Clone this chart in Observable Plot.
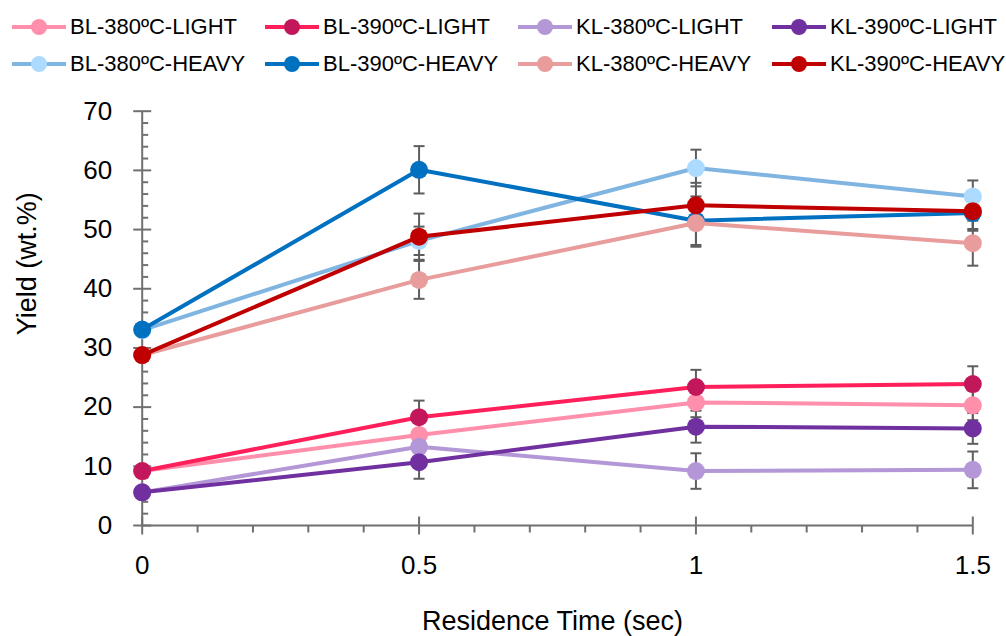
<!DOCTYPE html>
<html><head><meta charset="utf-8">
<script src="https://cdn.jsdelivr.net/npm/d3@7"></script>
<script src="https://cdn.jsdelivr.net/npm/@observablehq/plot@0.6"></script>
<style>
body{margin:0;background:#fff;font-family:"Liberation Sans",Arial,sans-serif;}
#wrap{position:relative;width:1006px;height:636px;overflow:hidden;background:#fff}
#legend{position:absolute;left:0;top:0;width:1006px;height:86px}
#chart{position:absolute;left:0;top:86px}
.item{position:absolute;height:30px;display:flex;align-items:center;font-size:22px;color:#000;white-space:nowrap}
.item svg{display:block;margin-right:4px}
</style></head><body>
<div id="wrap"><div id="legend"></div><div id="chart"></div></div>
<script>
// ---- data ----
const residenceTimes = [0, 0.5, 1, 1.5];
const seriesNames = ["BL-380ºC-LIGHT", "BL-390ºC-LIGHT", "KL-380ºC-LIGHT", "KL-390ºC-LIGHT",
                     "BL-380ºC-HEAVY", "BL-390ºC-HEAVY", "KL-380ºC-HEAVY", "KL-390ºC-HEAVY"];
const lineColors   = ["#FF8FAB", "#FF1F5B", "#B497D6", "#7030A0", "#7FB5E0", "#0070C0", "#E89C9C", "#C00000"];
const markerColors = ["#FF8FAB", "#C2185B", "#B497D6", "#7030A0", "#ADDBFF", "#0070C0", "#E89C9C", "#C00000"];

const bl380Light = [9.2, 15.3, 20.8, 20.3];
const bl390Light = [9.2, 18.3, 23.4, 23.9];
const kl380Light = [5.6, 13.3, 9.2, 9.4];
const kl390Light = [5.6, 10.7, 16.7, 16.4];
const bl380Heavy = [33.0, 48.1, 60.4, 55.6];
const bl390Heavy = [33.1, 60.1, 51.5, 52.8];
const kl380Heavy = [28.8, 41.5, 51.1, 47.7];
const kl390Heavy = [28.8, 48.8, 54.1, 53.1];

const bl380LightErr = [0, 2.5, 2.5, 2.5];
const bl390LightErr = [0, 2.8, 2.9, 3.0];
const kl380LightErr = [0, 2.0, 3.0, 3.1];
const kl390LightErr = [0, 2.8, 2.7, 2.6];
const bl380HeavyErr = [0, 2.4, 3.1, 2.7];
const bl390HeavyErr = [0, 4.0, 4.1, 3.0];
const kl380HeavyErr = [0, 3.2, 4.0, 3.8];
const kl390HeavyErr = [0, 3.9, 3.8, 3.0];

const xTicks = [0, 0.5, 1, 1.5];
const xMinorTicks = [0.1, 0.2, 0.3, 0.4, 0.6, 0.7, 0.8, 0.9, 1.1, 1.2, 1.3, 1.4];
const yTicks = [0, 10, 20, 30, 40, 50, 60, 70];
const yMinorTicks = [2,4,6,8,12,14,16,18,22,24,26,28,32,34,36,38,42,44,46,48,52,54,56,58,62,64,66,68];

const xLabel = "Residence Time (sec)";
const yLabel = "Yield (wt.%)";

// ---- build ----
const values = [bl380Light, bl390Light, kl380Light, kl390Light, bl380Heavy, bl390Heavy, kl380Heavy, kl390Heavy];
const errors = [bl380LightErr, bl390LightErr, kl380LightErr, kl390LightErr, bl380HeavyErr, bl390HeavyErr, kl380HeavyErr, kl390HeavyErr];

const series = seriesNames.map((name, i) => ({
  name, line: lineColors[i], marker: markerColors[i],
  rows: residenceTimes.map((t, j) => ({t, v: values[i][j], e: errors[i][j]}))
}));
const errRows = series.flatMap(s => s.rows.filter(r => r.e > 0).map(r => ({t: r.t, lo: r.v - r.e, hi: r.v + r.e})));

const axisColor = "#707070";
const errColor = "#5E5E5E";
const hSeg = (a, b) => ({draw(ctx) { ctx.moveTo(a, 0); ctx.lineTo(b, 0); }});
const vSeg = (a, b) => ({draw(ctx) { ctx.moveTo(0, a); ctx.lineTo(0, b); }});

const marks = [
  // axis lines
  Plot.ruleY([0], {stroke: axisColor, strokeWidth: 2}),
  Plot.ruleX([0], {stroke: axisColor, strokeWidth: 2}),
  // y ticks
  Plot.dot(yTicks, {x: 0, y: d => d, symbol: hSeg(-9, 9), fill: "none", stroke: axisColor, strokeWidth: 2}),
  Plot.dot(yMinorTicks, {x: 0, y: d => d, symbol: hSeg(0, 6), fill: "none", stroke: axisColor, strokeWidth: 2}),
  // x ticks
  Plot.dot(xTicks, {x: d => d, y: 0, symbol: vSeg(-9, 9), fill: "none", stroke: axisColor, strokeWidth: 2}),
  Plot.dot(xMinorTicks, {x: d => d, y: 0, symbol: vSeg(0, 7), fill: "none", stroke: axisColor, strokeWidth: 2}),
  Plot.axisX({ticks: xTicks, tickSize: 0, tickPadding: 30, tickFormat: d => String(d), fontSize: 26, label: null}),
  Plot.axisY({ticks: yTicks, tickSize: 0, tickPadding: 30, tickFormat: d => String(d), fontSize: 26, label: null}),
  Plot.text([xLabel], {frameAnchor: "bottom", dy: 85, dx: -5, lineAnchor: "top", fontSize: 27, fill: "#000"}),
  Plot.text([yLabel], {frameAnchor: "left", dx: -115, dy: 17, rotate: -90, lineAnchor: "middle", fontSize: 27, fill: "#000"}),
  // error bars
  Plot.ruleX(errRows, {x: "t", y1: "lo", y2: "hi", stroke: errColor, strokeWidth: 2}),
  Plot.dot(errRows, {x: "t", y: "lo", symbol: hSeg(-5.5, 5.5), fill: "none", stroke: errColor, strokeWidth: 2}),
  Plot.dot(errRows, {x: "t", y: "hi", symbol: hSeg(-5.5, 5.5), fill: "none", stroke: errColor, strokeWidth: 2})
];
for (const s of series) {
  marks.push(Plot.line(s.rows, {x: "t", y: "v", stroke: s.line, strokeWidth: 4, strokeLinejoin: "round"}));
  marks.push(Plot.dot(s.rows, {x: "t", y: "v", r: 9, fill: s.marker, stroke: "none"}));
}

const chart = Plot.plot({
  width: 1006, height: 550,
  marginLeft: 141.7, marginRight: 33.7, marginTop: 24.7, marginBottom: 111,
  x: {domain: [0, 1.5]},
  y: {domain: [0, 70]},
  style: {fontFamily: '"Liberation Sans", Arial, sans-serif', color: "#000", background: "transparent", overflow: "visible"},
  marks
});
document.getElementById("chart").appendChild(chart);

// ---- legend ----
const legendCols = [12, 265, 518, 772];
const legendRows = [27, 64];
const legend = d3.select("#legend");
series.forEach((s, i) => {
  const col = i % 4, row = Math.floor(i / 4);
  const item = legend.append("div").attr("class", "item")
    .style("left", legendCols[col] + "px").style("top", (legendRows[row] - 15) + "px");
  const sv = item.append("svg").attr("width", 54).attr("height", 20);
  sv.append("line").attr("x1", 0).attr("x2", 54).attr("y1", 10).attr("y2", 10)
    .attr("stroke", s.line).attr("stroke-width", 4).attr("stroke-linecap", "round");
  sv.append("circle").attr("cx", 27).attr("cy", 10).attr("r", 8).attr("fill", s.marker);
  item.append("span").text(s.name);
});
</script></body></html>
